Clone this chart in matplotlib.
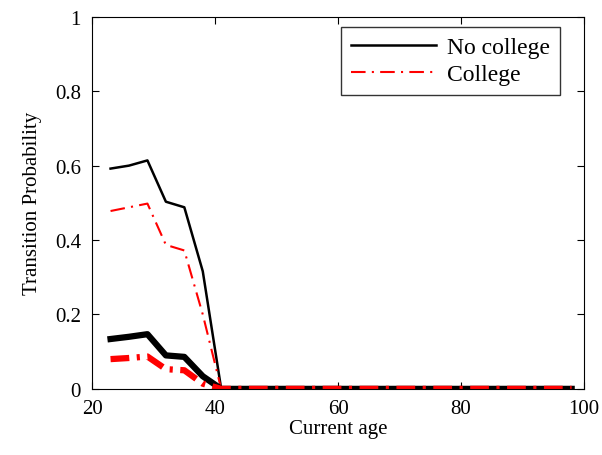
import numpy as np
import matplotlib
matplotlib.use("Agg")
import matplotlib.pyplot as plt

plt.rcParams['font.family'] = ['Liberation Serif', 'DejaVu Serif']
plt.rcParams['mathtext.fontset'] = 'stix'

# ages (3-year steps) and transition probabilities
ages = np.arange(23, 99, 3)
n_zero = len(ages) - 7
nocol_thin = [0.592, 0.60, 0.614, 0.503, 0.488, 0.316, 0.0] + [0.0] * n_zero
col_thin = [0.478, 0.488, 0.498, 0.387, 0.372, 0.20, 0.0] + [0.0] * n_zero
nocol_thick = [0.134, 0.140, 0.147, 0.090, 0.086, 0.034, 0.0] + [0.0] * n_zero
col_thick = [0.080, 0.083, 0.087, 0.053, 0.050, 0.014, 0.0] + [0.0] * n_zero

fig = plt.figure(figsize=(6.02, 4.56), dpi=100)
ax = fig.add_axes([0.153, 0.145, 0.817, 0.816])

ax.plot(ages, nocol_thin, color='black', lw=1.8, label='No college')
ax.plot(ages, col_thin, color='red', lw=1.5, ls='-.', dashes=(7, 3, 1, 3),
        label='College')
ax.plot(ages, nocol_thick, color='black', lw=4.5)
ax.plot(ages, col_thick, color='red', lw=4.5, ls='-.', dashes=(3, 1.2, 0.5, 1.2))

ax.set_xlim(20, 100)
ax.set_ylim(0, 1)
ax.set_xticks([20, 40, 60, 80, 100])
ax.set_yticks([0, 0.2, 0.4, 0.6, 0.8, 1])
ax.set_yticklabels(['0', '0.2', '0.4', '0.6', '0.8', '1'])
ax.tick_params(direction='in', top=True, right=True, labelsize=15, length=5)
ax.tick_params(axis='x', pad=7)
ax.tick_params(axis='y', pad=8)
ax.set_xlabel('Current age', fontsize=15, labelpad=1)
ax.set_ylabel('Transition Probability', fontsize=15, labelpad=9)

leg = ax.legend(loc='upper right', bbox_to_anchor=(0.951, 0.973), fontsize=17,
                frameon=True, fancybox=False, edgecolor='black',
                handlelength=3.6, handletextpad=0.5, borderaxespad=0.0,
                labelspacing=0.25, borderpad=0.4)
leg.get_frame().set_linewidth(1.0)

fig.savefig('out.png', dpi=100)
